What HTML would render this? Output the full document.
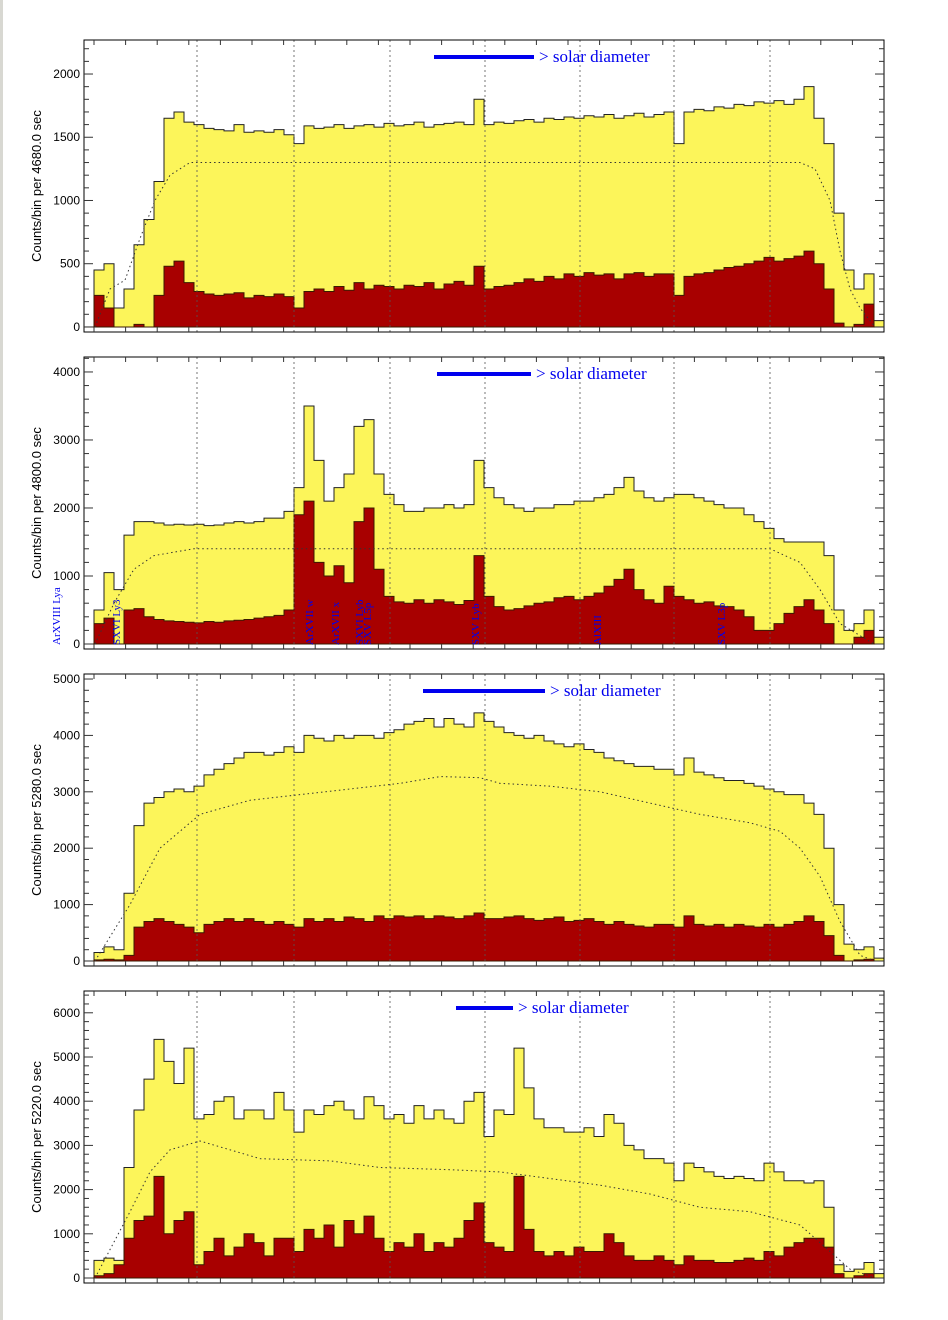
<!DOCTYPE html>
<html><head><meta charset="utf-8"><style>
body{margin:0;background:#fff;width:948px;height:1320px;overflow:hidden}
svg{display:block}
</style></head><body>
<svg id="chart" width="948" height="1320" xmlns="http://www.w3.org/2000/svg">
<rect x="0" y="0" width="3" height="1320" fill="#d8d8d2"/>
</svg>
<script>
// ---- data (bins 0..79, shared x axis in bin units) ----
const yellow1=[0,450,500,150,300,650,850,1150,1650,1700,1620,1600,1570,1560,1550,1600,1540,1550,1540,1560,1520,1450,1590,1570,1580,1600,1570,1590,1600,1580,1610,1590,1600,1620,1580,1600,1610,1620,1600,1800,1600,1620,1610,1630,1640,1620,1650,1640,1660,1650,1670,1660,1680,1650,1670,1690,1660,1680,1700,1450,1700,1720,1710,1740,1730,1760,1750,1780,1770,1790,1760,1800,1900,1650,1450,900,450,300,420,50];
const red1=[0,250,150,0,0,20,0,250,480,520,350,280,260,250,260,270,230,250,240,260,240,150,280,300,280,320,290,350,300,330,320,300,330,320,350,300,340,360,330,480,300,320,330,350,380,360,400,380,420,400,430,410,420,380,420,430,400,420,420,250,400,420,430,450,470,480,500,520,550,520,540,560,600,500,300,30,0,20,180,0];
const dotX1=[1.1,2.6,4.1,5.6,7.1,8.6,10.6,71.6,73.1,74.6,75.6,76.6,77.6,79.1];
const dotY1=[0,300,370,700,1000,1200,1300,1300,1250,1000,600,300,150,0];

const yellow2=[0,500,1050,800,1600,1800,1800,1780,1750,1760,1750,1760,1740,1750,1780,1800,1780,1800,1850,1850,1950,2300,3500,2700,2100,2300,2500,3200,3300,2500,2200,2050,1950,1950,2000,2000,2050,2000,2050,2700,2300,2150,2050,2000,1950,2000,2000,2050,2050,2100,2100,2150,2200,2300,2450,2250,2150,2100,2150,2200,2200,2150,2100,2050,2000,2000,1900,1800,1700,1550,1500,1500,1500,1500,1300,500,200,300,500,100];
const red2=[0,300,380,0,500,520,400,360,340,330,320,310,330,320,340,350,360,380,400,420,500,1900,2100,1200,1000,1150,900,1800,2000,1100,700,620,600,650,600,650,620,580,640,1300,700,550,500,520,560,600,620,680,700,650,700,750,850,950,1100,800,650,600,850,700,650,600,620,560,550,500,400,200,200,300,450,550,650,500,300,0,0,100,200,0];
const dotX2=[1.1,3,5,7,11,68.6,71.6,73.6,75.6,79];
const dotY2=[0,600,1100,1300,1400,1400,1200,800,300,0];

const yellow3=[0,150,250,200,1200,2400,2800,2900,3000,3050,3000,3100,3300,3400,3500,3600,3700,3700,3650,3700,3800,3700,4000,3950,3900,4000,3950,4000,4000,3950,4050,4100,4200,4250,4300,4150,4300,4200,4150,4400,4250,4150,4050,4000,3950,4000,3900,3850,3800,3850,3750,3700,3600,3550,3500,3450,3450,3400,3400,3300,3600,3350,3300,3250,3200,3200,3150,3100,3050,3000,2950,2950,2800,2600,2000,1000,300,200,250,50];
const red3=[0,20,30,20,100,600,700,750,700,650,600,500,650,700,750,700,750,700,650,700,650,600,750,700,750,700,780,750,700,800,750,800,780,800,750,800,780,750,800,850,750,750,780,800,750,720,750,780,700,720,750,700,650,700,650,620,600,650,650,600,800,650,620,650,600,650,620,600,650,600,650,700,800,700,450,100,0,20,30,0];
const dotX3=[1.1,4.6,7.6,11.6,16.6,21.6,26.6,31.6,35.6,39.6,41.6,46.6,51.6,56.6,61.6,66.6,69.6,71.6,73.6,75.6,77.6,79.1];
const dotY3=[0,1000,2000,2600,2850,2950,3050,3150,3270,3250,3150,3100,3000,2800,2600,2450,2300,2000,1500,700,100,0];

const yellow4=[0,400,450,400,2500,3800,4500,5400,4900,4400,5200,3600,3700,4000,4100,3600,3800,3800,3600,4200,3800,3300,3800,3700,3900,4000,3800,3600,4100,3900,3600,3700,3500,3900,3600,3800,3600,3500,4000,4200,3200,3800,3700,5200,4300,3600,3400,3400,3300,3300,3400,3200,3700,3500,3000,2900,2700,2700,2600,2200,2600,2500,2400,2300,2250,2300,2250,2200,2600,2400,2200,2200,2150,2200,1600,300,150,200,350,100];
const red4=[0,50,100,300,900,1300,1400,2300,1000,1300,1500,300,600,900,500,700,1000,800,500,900,900,600,1100,900,1200,700,1300,1000,1400,900,600,800,700,1000,600,800,700,900,1300,1700,800,700,600,2300,1100,600,500,600,500,700,600,600,1000,800,500,400,400,500,400,300,500,400,400,350,350,400,450,400,600,500,700,800,900,900,700,100,0,50,100,0];
const dotX4=[1.1,4.6,6.6,8.6,11.6,14.6,17.6,24.6,29.6,36.6,41.6,46.6,51.6,56.6,61.6,66.6,71.6,74.6,76.6,79.1];
const dotY4=[0,1500,2400,2900,3100,2900,2700,2650,2500,2450,2400,2250,2100,1900,1600,1500,1200,600,200,0];

const exposures=["4680.0","4800.0","5280.0","5220.0"];
const yTicks1=[0,500,1000,1500,2000];
const yTicks2=[0,1000,2000,3000,4000];
const yTicks3=[0,1000,2000,3000,4000,5000];
const yTicks4=[0,1000,2000,3000,4000,5000,6000];
const gridBins=[11.3,21,30.6,40.1,49.6,59,68.6];
const lineLabels=["ArXVIII Lya","SXVI Ly3","ArXVII w","ArXVII x","SXVI Lyb","SXV L5p","SXV Lyb","AlXIII","SXV L3p"];
const lineLabelBins=[-2.7,3.3,22.6,25.2,27.6,28.4,39.2,51.4,63.8];

// ---- layout ----
const NS="http://www.w3.org/2000/svg";
const svg=document.getElementById('chart');
const X0=84,X1=884,NB=80;
const panels=[
 {top:40,ymin:-40,ymax:2269,minor:100,y:yellow1,r:red1,dx:dotX1,dy:dotY1,ticks:yTicks1,bar:[434,534]},
 {top:357,ymin:-73.5,ymax:4220,minor:200,y:yellow2,r:red2,dx:dotX2,dy:dotY2,ticks:yTicks2,bar:[437,531]},
 {top:674,ymin:-89,ymax:5089,minor:200,y:yellow3,r:red3,dx:dotX3,dy:dotY3,ticks:yTicks3,bar:[423,545]},
 {top:991,ymin:-113,ymax:6493,minor:200,y:yellow4,r:red4,dx:dotX4,dy:dotY4,ticks:yTicks4,bar:[456,513]}
];
const H=292;
const xs=b=>X0+b*(X1-X0)/NB;
function mk(tag,attrs,parent){const e=document.createElementNS(NS,tag);for(const k in attrs)e.setAttribute(k,attrs[k]);(parent||svg).appendChild(e);return e;}

panels.forEach((p,pi)=>{
 const ys=v=>p.top+H-(v-p.ymin)/(p.ymax-p.ymin)*H;
 const g=mk('g',{});
 
 
 const clipId='clip'+pi;
 const cp=mk('clipPath',{id:clipId},g);mk('rect',{x:X0,y:p.top,width:X1-X0,height:H},cp);
 const plot=mk('g',{'clip-path':'url(#'+clipId+')'},g);
 function stepPath(arr){let d='M'+xs(0)+','+ys(0);arr.forEach((v,i)=>{d+=' L'+xs(i)+','+ys(v)+' L'+xs(i+1)+','+ys(v);});d+=' L'+xs(arr.length)+','+ys(0)+' Z';return d;}
 const yp=mk('path',{d:stepPath(p.y),fill:'#fcf55a',stroke:'#222','stroke-width':1},plot);
 
 
 const rp=mk('path',{d:stepPath(p.r),fill:'#a80000',stroke:'#3a1a00','stroke-width':1},plot);
 
 
 let dd='';p.dx.forEach((b,i)=>{dd+=(i?' L':'M')+xs(b)+','+ys(p.dy[i]);});
 const dl=mk('path',{d:dd,fill:'none',stroke:'#333','stroke-width':1,'stroke-dasharray':'1.5,3'},plot);
 
 
 gridBins.forEach(b=>{const l=mk('line',{x1:xs(b),x2:xs(b),y1:p.top,y2:p.top+H,stroke:'#555','stroke-dasharray':'2,3','stroke-width':0.8},plot);
  
  });
 const fr=mk('rect',{x:X0,y:p.top,width:X1-X0,height:H,fill:'none',stroke:'#000','stroke-width':1},g);
 
 
 for(let v=Math.ceil(p.ymin/p.minor)*p.minor;v<=p.ymax;v+=p.minor){
  const major=p.ticks.includes(v);const L=major?9:5;const y=ys(v);
  mk('line',{x1:X0,x2:X0+L,y1:y,y2:y,stroke:'#333','stroke-width':1},g);
  mk('line',{x1:X1,x2:X1-L,y1:y,y2:y,stroke:'#333','stroke-width':1},g);
 }
 p.ticks.forEach(v=>{const t=mk('text',{x:X0-4,y:ys(v)+4,'text-anchor':'end','font-family':'Liberation Sans, sans-serif','font-size':12,fill:'#000'},g);t.textContent=v;
  
  });
 for(let x=410-31.6*10;x<X1;x+=31.6){if(x<=X0)continue;
  mk('line',{x1:x,x2:x,y1:p.top,y2:p.top+5,stroke:'#333'},g);
  mk('line',{x1:x,x2:x,y1:p.top+H,y2:p.top+H-5,stroke:'#333'},g);}
 const cy=p.top+H/2;
 const yt=mk('text',{x:41,y:cy,transform:'rotate(-90 41 '+cy+')','text-anchor':'middle','font-family':'Liberation Sans, sans-serif','font-size':13,fill:'#000','xml:space':'preserve'},g);
 yt.textContent='Counts/bin per   '+exposures[pi]+' sec';
 
 
 const by=p.top+17;
 const bl=mk('line',{x1:p.bar[0],x2:p.bar[1],y1:by,y2:by,stroke:'#0000ee','stroke-width':4},g);
 
 
 const st=mk('text',{x:p.bar[1]+5,y:by+5,'font-family':'Liberation Serif, serif','font-size':17,fill:'#0000ee'},g);
 st.textContent='> solar diameter';
 
 
 if(pi===1){
  lineLabels.forEach((s,i)=>{const x=xs(lineLabelBins[i])+3;const yb=p.top+H-4;
   const t=mk('text',{x:x,y:yb,transform:'rotate(-90 '+x+' '+yb+')','font-family':'Liberation Serif, serif','font-size':11,fill:'#0000ee'},g);
   t.textContent=s;
   
   });
 }
});
</script>
</body></html>
